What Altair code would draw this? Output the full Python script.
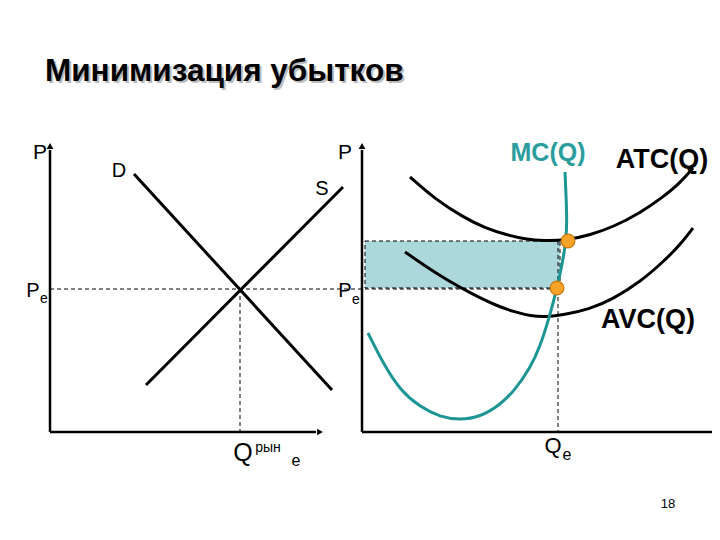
import altair as alt
import pandas as pd

# ---------------- data (picture coordinates, y downward) -------------
TITLE = "Минимизация убытков"

# market demand and supply (left panel)
D_x = [134, 332]
D_y = [174, 390]
S_x = [146, 343]
S_y = [385, 187]

# firm cost curves (right panel)
MC_x = [368, 384, 400, 420, 440, 460, 480, 500, 515, 530, 540, 550, 557, 562, 566, 567, 566, 565]
MC_y = [333, 365, 390, 407, 417, 420, 417, 405, 390, 368, 347, 315, 288, 265, 242, 220, 195, 172]
ATC_x = [410, 435, 463, 485, 507, 525, 543, 568, 590, 613, 640, 663, 680, 693]
ATC_y = [177, 199, 217, 228, 235, 239, 241, 240, 235, 227, 213, 197, 183, 168]
AVC_x = [405, 425, 447, 472, 497, 515, 530, 547, 563, 590, 613, 640, 663, 680, 693]
AVC_y = [252, 266, 280, 294, 306, 312, 316, 317, 315, 309, 299, 282, 262, 245, 228]

# axes segments
AX_x = [50, 50, 362, 362]
AX_y = [150, 432, 150, 432]
AX_x2 = [50, 316, 362, 712]
AX_y2 = [432, 432, 432, 432]
# arrow heads
ARROW_UP_x = [50, 362]
ARROW_UP_y = [146, 146]
ARROW_RIGHT_x = [320]
ARROW_RIGHT_y = [432]

# dashed guide lines
DASH_x = [50, 240, 558]
DASH_y = [289, 289, 241]
DASH_x2 = [560, 240, 558]
DASH_y2 = [289, 432, 432]

# loss rectangle
RECT_x = [365]
RECT_x2 = [560]
RECT_y = [241]
RECT_y2 = [288]

# equilibrium dots
DOT_x = [568, 557]
DOT_y = [241, 288]

# plain labels
LAB_text = ["P", "P", "D", "S", "P", "e", "P", "e", "Q", "рын", "e", "Q", "e", "18"]
LAB_x = [40, 345, 119, 322, 33, 44, 345, 356, 243, 268, 296, 553, 567, 668]
LAB_y = [153, 153, 171, 189, 291, 299, 291, 300, 453, 448, 461, 446, 455, 504]
LAB_size = [21, 21, 20, 20, 20, 14, 20, 14, 25, 14, 16, 22, 16, 13]

# bold curve labels
BLAB_text = ["MC(Q)", "ATC(Q)", "AVC(Q)"]
BLAB_x = [548, 662, 648]
BLAB_y = [153, 160, 320]
BLAB_size = [25, 27, 27]
BLAB_color = ["#2a9d9d", "#000000", "#000000"]

# ---------------- build tables ----------------
def curve(name, xs, ys):
    return pd.DataFrame({"curve": name, "i": range(len(xs)), "x": xs, "y": ys})

straight = pd.concat([curve("D", D_x, D_y), curve("S", S_x, S_y)])
cost_curves = pd.concat([curve("ATC", ATC_x, ATC_y), curve("AVC", AVC_x, AVC_y)])
mc_curve = curve("MC", MC_x, MC_y)
axes_df = pd.DataFrame({"x": AX_x, "y": AX_y, "x2": AX_x2, "y2": AX_y2})
dash_df = pd.DataFrame({"x": DASH_x, "y": DASH_y, "x2": DASH_x2, "y2": DASH_y2})
rect_df = pd.DataFrame({"x": RECT_x, "x2": RECT_x2, "y": RECT_y, "y2": RECT_y2})
dot_df = pd.DataFrame({"x": DOT_x, "y": DOT_y})
up_df = pd.DataFrame({"x": ARROW_UP_x, "y": ARROW_UP_y})
right_df = pd.DataFrame({"x": ARROW_RIGHT_x, "y": ARROW_RIGHT_y})
lab_df = pd.DataFrame({"t": LAB_text, "x": LAB_x, "y": LAB_y, "s": LAB_size})
blab_df = pd.DataFrame({"t": BLAB_text, "x": BLAB_x, "y": BLAB_y, "s": BLAB_size, "c": BLAB_color})
title_df = pd.DataFrame({"t": [TITLE], "x": [45], "y": [72]})
shadow_df = pd.DataFrame({"t": [TITLE], "x": [47], "y": [74]})

XS = alt.Scale(domain=[8, 712], nice=False, zero=False)
YS = alt.Scale(domain=[8, 528], nice=False, zero=False, reverse=True)
X = alt.X("x:Q", scale=XS, axis=None)
Y = alt.Y("y:Q", scale=YS, axis=None)
FONT = "Liberation Sans"

rect = alt.Chart(rect_df).mark_rect(fill="#acd8db", stroke="#000000", strokeDash=[4, 3],
                                    strokeWidth=1).encode(x=X, y=Y, x2="x2:Q", y2="y2:Q")
dash = alt.Chart(dash_df).mark_rule(color="#000000", strokeDash=[4, 3], strokeWidth=1).encode(
    x=X, y=Y, x2="x2:Q", y2="y2:Q")
axes = alt.Chart(axes_df).mark_rule(color="#000000", strokeWidth=2.5).encode(
    x=X, y=Y, x2="x2:Q", y2="y2:Q")
up = alt.Chart(up_df).mark_point(shape="triangle-up", filled=True, color="#000000", size=45,
                                 opacity=1).encode(x=X, y=Y)
right = alt.Chart(right_df).mark_point(shape="triangle-right", filled=True, color="#000000",
                                       size=45, opacity=1).encode(x=X, y=Y)
lines = alt.Chart(straight).mark_line(strokeWidth=3, color="#000000").encode(
    x=X, y=Y, detail="curve:N", order="i:Q")
costs = alt.Chart(cost_curves).mark_line(interpolate="basis", strokeWidth=3, color="#000000").encode(
    x=X, y=Y, detail="curve:N", order="i:Q")
mc = alt.Chart(mc_curve).mark_line(interpolate="basis", strokeWidth=3, color="#1c9595").encode(
    x=X, y=Y, order="i:Q")
dots = alt.Chart(dot_df).mark_point(shape="circle", filled=True, size=190, fill="#f8a328",
                                    stroke="#c5780f", strokeWidth=1.2, opacity=1).encode(x=X, y=Y)
labels = alt.Chart(lab_df).mark_text(font=FONT, align="center", baseline="middle", color="#000000").encode(
    x=X, y=Y, text="t:N", size=alt.Size("s:Q", scale=None, legend=None))
blabels = alt.Chart(blab_df).mark_text(font=FONT, fontWeight="bold", align="center",
                                       baseline="middle").encode(
    x=X, y=Y, text="t:N", size=alt.Size("s:Q", scale=None, legend=None),
    color=alt.Color("c:N", scale=None, legend=None))
shadow = alt.Chart(shadow_df).mark_text(font=FONT, fontWeight="bold", fontSize=31.5, align="left",
                                        baseline="middle", color="#bdbdbd").encode(x=X, y=Y, text="t:N")
title = alt.Chart(title_df).mark_text(font=FONT, fontWeight="bold", fontSize=31.5, align="left",
                                      baseline="middle", color="#000000").encode(x=X, y=Y, text="t:N")

chart = alt.layer(rect, dash, axes, up, right, lines, costs, mc, dots, labels, blabels, shadow, title).properties(
    width=704, height=520, padding=0, autosize=alt.AutoSizeParams(type="none"),
    background="#ffffff").configure_view(stroke=None)

chart.save("out.html", embed_options={"renderer": "svg", "actions": False})
